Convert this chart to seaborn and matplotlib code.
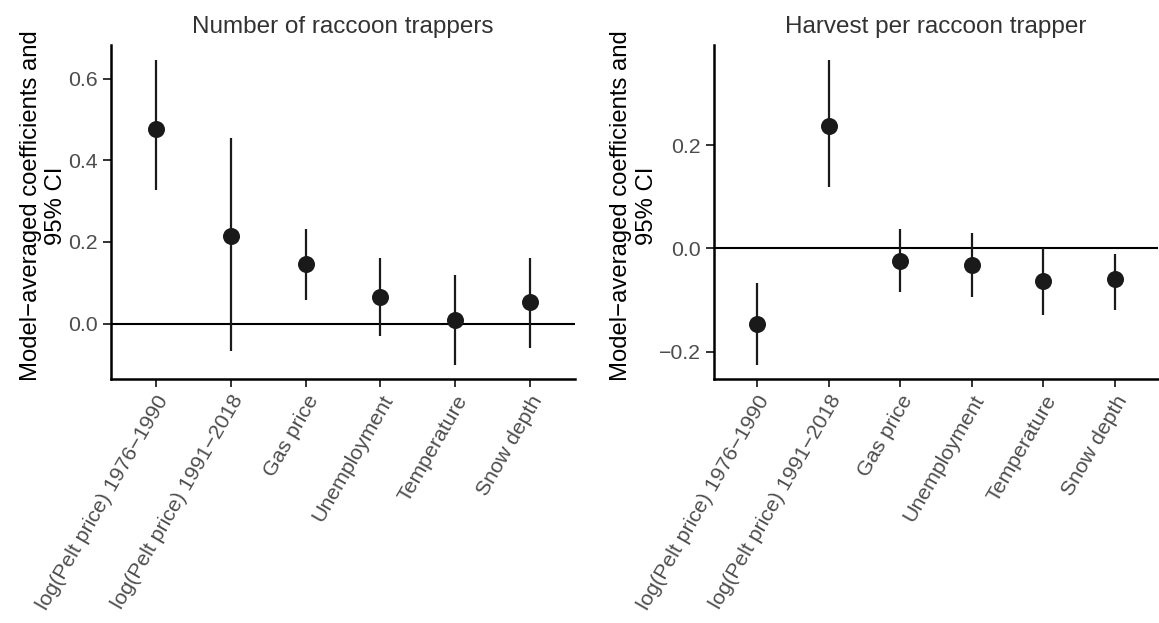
import matplotlib
matplotlib.use("Agg")
import matplotlib.pyplot as plt
import seaborn as sns
import pandas as pd

categories = ["log(Pelt price) 1976\u22121990", "log(Pelt price) 1991\u22122018",
              "Gas price", "Unemployment", "Temperature", "Snow depth"]

# Number of raccoon trappers
n_est = [0.477, 0.215, 0.147, 0.065, 0.008, 0.052]
n_lo = [0.328, -0.067, 0.057, -0.031, -0.102, -0.061]
n_hi = [0.646, 0.454, 0.231, 0.160, 0.119, 0.160]

# Harvest per raccoon trapper
h_est = [-0.147, 0.238, -0.024, -0.032, -0.063, -0.059]
h_lo = [-0.226, 0.119, -0.085, -0.095, -0.129, -0.120]
h_hi = [-0.067, 0.365, 0.037, 0.029, 0.000, -0.010]

titles = ["Number of raccoon trappers", "Harvest per raccoon trapper"]
ylabel = "Model\u2212averaged coefficients and\n95% CI"

sns.set_theme(style="ticks")
plt.rcParams["font.family"] = ["Liberation Sans", "DejaVu Sans"]

W, H = 1159, 623
fig = plt.figure(figsize=(W / 100, H / 100), dpi=100)

def rect(x0, x1, ytop, ybot):
    return [x0 / W, (H - ybot) / H, (x1 - x0) / W, (ybot - ytop) / H]

ax1 = fig.add_axes(rect(111, 575, 45, 379))
ax2 = fig.add_axes(rect(714, 1158, 45, 379))

panels = [
    (ax1, n_est, n_lo, n_hi, (-0.136, 0.683), [0.0, 0.2, 0.4, 0.6]),
    (ax2, h_est, h_lo, h_hi, (-0.253, 0.394), [-0.2, 0.0, 0.2]),
]

for i, (ax, est, lo, hi, ylim, yt) in enumerate(panels):
    df = pd.DataFrame({"term": categories, "est": est, "lo": lo, "hi": hi})
    ax.axhline(0, color="black", lw=1.5, zorder=1)
    ax.vlines(df["term"], df["lo"], df["hi"], color="#1a1a1a", lw=1.6, zorder=2)
    sns.scatterplot(data=df, x="term", y="est", ax=ax, s=150, color="#1a1a1a",
                    edgecolor="#1a1a1a", linewidth=0, zorder=3)
    ax.set_xlim(-0.6, 5.6)
    ax.set_ylim(*ylim)
    ax.set_yticks(yt)
    ax.set_yticklabels([f"{v:.1f}".replace("-", "\u2212") for v in yt])
    ax.set_xlabel("")
    ax.set_ylabel(ylabel, fontsize=17.2, color="black", labelpad=1)
    ax.yaxis.label.set_y(0.518)
    ax.set_title(titles[i], fontsize=17.5, color="#333333", pad=9)
    for s in ["top", "right"]:
        ax.spines[s].set_visible(False)
    for s in ["left", "bottom"]:
        ax.spines[s].set_color("black")
        ax.spines[s].set_linewidth(1.8)
    ax.tick_params(axis="both", colors="#333333", length=5.8, width=1.4,
                   labelsize=15.3, labelcolor="#4d4d4d", pad=3.5)
    ax.set_xticks(range(len(categories)))
    ax.set_xticklabels(categories, rotation=60, ha="right", va="top",
                       rotation_mode="anchor")
    ax.yaxis.label.set_va("bottom")

fig.savefig("out.png", dpi=100)
